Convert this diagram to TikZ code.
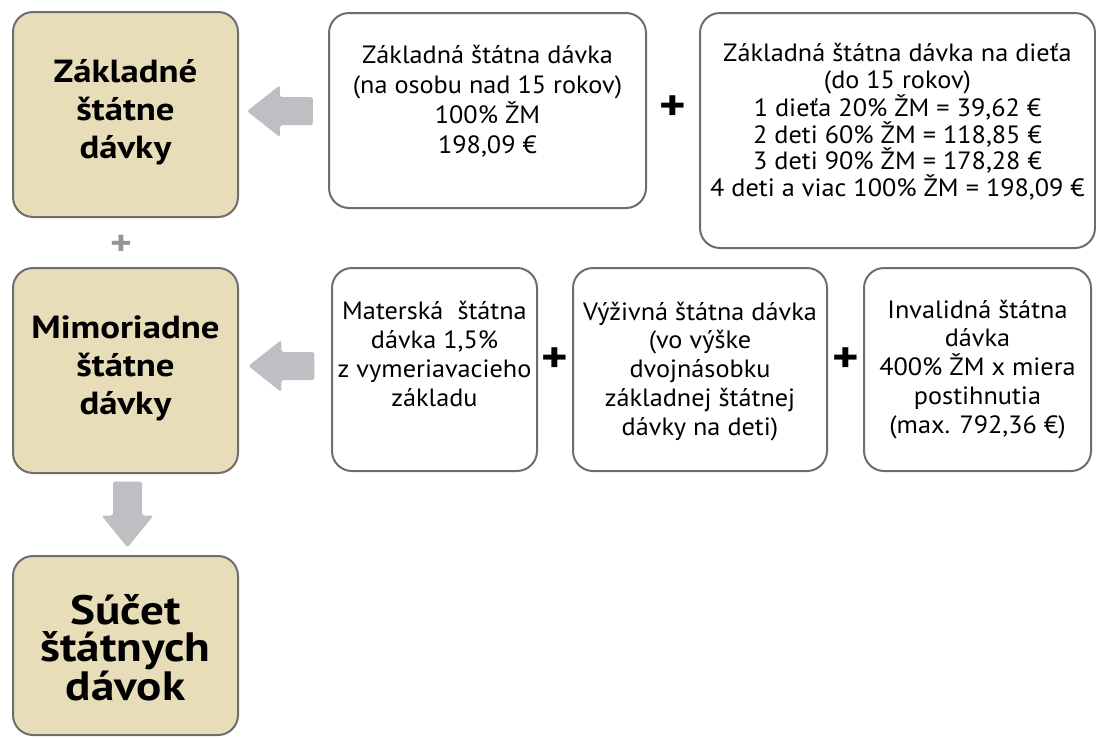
\documentclass[tikz,border=0pt]{standalone}
\usepackage{fontspec}
\setmainfont{PT Sans}[FakeStretch=1.05, BoldFeatures={FakeStretch=1.15}]
\usetikzlibrary{calc}

\definecolor{boxline}{RGB}{110,110,110}
\definecolor{sumfill}{RGB}{231,221,184}
\definecolor{arrowgray}{RGB}{190,191,195}
\definecolor{plusgray}{RGB}{150,150,150}

\tikzset{
  box/.style={draw=boxline, line width=2pt, rounded corners=20pt,
    inner sep=0pt, minimum width=#1},
  sumbox/.style={box=#1, fill=sumfill},
  infobox/.style={box=#1, fill=white},
  % the anchor "base" of a multi-line node is the baseline of its last line
  bodytext/.style={align=center, inner sep=0pt, anchor=base,
    font=\fontsize{25}{#1}\selectfont},
  headtext/.style={align=center, inner sep=0pt, anchor=base,
    font=\bfseries\fontsize{32}{38}\selectfont},
  plussign/.style={inner sep=0pt, font=\bfseries\fontsize{44}{44}\selectfont},
  blockarrow/.style={fill=arrowgray, draw=none, rounded corners=2.5pt},
  pics/leftarrow/.style={code={
    \path[blockarrow] (-33,0) -- (0,-26) -- (0,-14) -- (33,-14) -- (33,14)
      -- (0,14) -- (0,26) -- cycle;}},
  pics/downarrow/.style={code={
    \path[blockarrow] (-14.5,-33) -- (14.5,-33) -- (14.5,1) -- (26,1)
      -- (0,33) -- (-26,1) -- (-14.5,1) -- cycle;}},
}

\begin{document}
\begin{tikzpicture}[x=1pt, y=-1pt]
\useasboundingbox (0,0) rectangle (1096,737);

% summary column
\node[sumbox=225pt, minimum height=205pt] (zsd) at (125.5,114.5) {};
\node[sumbox=225pt, minimum height=205pt] (msd) at (125.5,370.5) {};
\node[sumbox=225pt, minimum height=179pt] (sum) at (125.5,645.5) {};

\node[headtext] (zsd-t) at (125.5,158) {Základné\\štátne\\dávky};
\node[headtext] (msd-t) at (125.5,414) {Mimoriadne\\štátne\\dávky};
\node[headtext, font=\bfseries\fontsize{41}{37}\selectfont] (sum-t)
  at (125.5,700) {Súčet\\štátnych\\dávok};

\node[plussign, text=plusgray, font=\bfseries\fontsize{36}{36}\selectfont]
  (plus-l) at (121,245) {+};

% basic benefits
\node[infobox=317pt, minimum height=195pt] (osoba) at (487.5,110.5) {};
\node[infobox=395pt, minimum height=235pt] (dieta) at (897.5,130.5) {};

\node[bodytext=30] (osoba-t) at (487.5,153)
  {Základná štátna dávka\\(na osobu nad 15 rokov)\\100\% ŽM\\198,09 €};
\node[bodytext=26.7] (dieta-t) at (897.5,196.5)
  {Základná štátna dávka na dieťa\\(do 15 rokov)\\1 dieťa 20\% ŽM = 39,62 €\\
   2 deti 60\% ŽM = 118,85 €\\3 deti 90\% ŽM = 178,28 €\\
   4 deti a viac 100\% ŽM = 198,09 €};

\node[plussign] (plus-t) at ($(osoba.east)!0.5!(dieta.west |- osoba.east)+(0,-2)$) {+};

% extraordinary benefits
\node[infobox=205pt, minimum height=203pt] (mat) at (434.5,369.5) {};
\node[infobox=254pt, minimum height=203pt] (vyz) at (700,369.5) {};
\node[infobox=227pt, minimum height=203pt] (inv) at (977.5,369.5) {};

\node[bodytext=28.7] (mat-t) at (434.5,406)
  {Materská\ \ štátna\\dávka 1,5\%\\z vymeriavacieho\\základu};
\node[bodytext=28.7] (vyz-t) at (700,435)
  {Výživná štátna dávka\\(vo výške\\dvojnásobku\\základnej štátnej\\dávky na deti)};
\node[bodytext=28.7] (inv-t) at (977.5,433)
  {Invalidná štátna\\dávka\\400\% ŽM x miera\\postihnutia\\(max. 792,36 €)};

\node[plussign] (plus-b1) at ($(mat.east)!0.5!(vyz.west)+(0,-9)$) {+};
\node[plussign] (plus-b2) at ($(vyz.east)!0.5!(inv.west)+(0,-9)$) {+};

% block arrows
\pic at ($(zsd.east)!0.46!(osoba.west)+(0,-1.5)$) {leftarrow};
\pic at ($(msd.east |- mat.center)!0.46!(mat.west)+(0,-3.5)$) {leftarrow};
\pic at ($(msd.south)!0.5!(sum.north)+(2,0)$) {downarrow};
\end{tikzpicture}
\end{document}
